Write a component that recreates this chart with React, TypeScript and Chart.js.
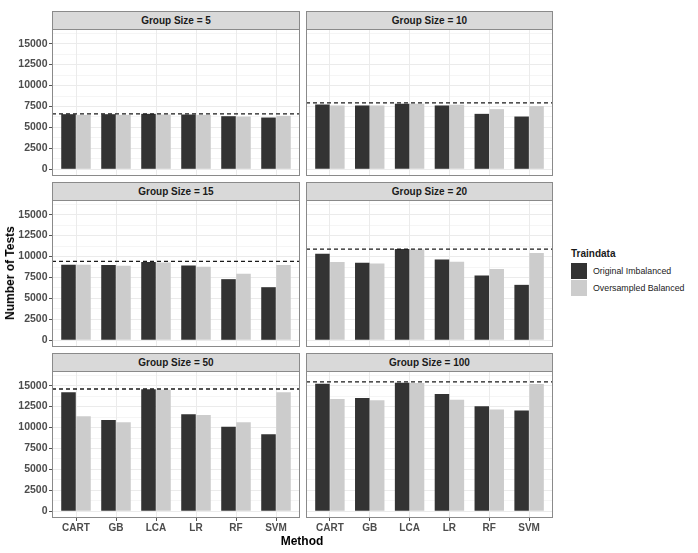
import React, { useEffect, useRef } from 'react';
import { Chart, registerables } from 'chart.js';

Chart.register(...registerables);

// ---------- data ----------
const methods = ['CART', 'GB', 'LCA', 'LR', 'RF', 'SVM'];
const groupSizes = [5, 10, 15, 20, 50, 100];
const seriesNames = ['Original Imbalanced', 'Oversampled Balanced'];

const original5 = [6580, 6580, 6620, 6540, 6340, 6180];
const original10 = [7740, 7620, 7820, 7620, 6620, 6300];
const original15 = [9020, 8980, 9340, 8940, 7300, 6340];
const original20 = [10330, 9260, 10890, 9650, 7740, 6620];
const original50 = [14200, 10910, 14560, 11590, 10080, 9210];
const original100 = [15240, 13530, 15360, 14010, 12540, 12020];

const oversampled5 = [6500, 6500, 6540, 6500, 6300, 6380];
const oversampled10 = [7620, 7620, 7820, 7700, 7180, 7540];
const oversampled15 = [9020, 8900, 9300, 8780, 7940, 8980];
const oversampled20 = [9340, 9180, 10850, 9380, 8500, 10410];
const oversampled50 = [11350, 10640, 14520, 11510, 10640, 14200];
const oversampled100 = [13410, 13250, 15320, 13330, 12140, 15200];

const referenceLine = [6620, 7940, 9420, 10890, 14600, 15440];

// major (labelled) and minor y grid values
const yMajorTicks = [0, 2500, 5000, 7500, 10000, 12500, 15000];
const yMinorTicks = [1250, 3750, 6250, 8750, 11250, 13750, 16250];

const originalByGroup = [original5, original10, original15, original20, original50, original100];
const oversampledByGroup = [oversampled5, oversampled10, oversampled15, oversampled20, oversampled50, oversampled100];

// ---------- style ----------
const FONT = "'Liberation Sans', Arial, Helvetica, sans-serif";
const DARK = '#333333';
const LIGHT = '#CCCCCC';
const BORDER = '#8A8A8A';

const colLeft = [52, 306];
const colWidth = [248, 247];
const stripTop = [11, 182, 353];
const stripH = 18;
const bodyH = 147;
const yAxisW = 52;
const xAxisH = 24;

const borderPlugin = {
  id: 'panelBorder',
  afterDraw(chart: any) {
    const { left, top, right, bottom } = chart.chartArea;
    const ctx = chart.ctx;
    ctx.save();
    ctx.strokeStyle = BORDER;
    ctx.lineWidth = 1;
    ctx.strokeRect(Math.round(left) + 0.5, Math.round(top) + 0.5, Math.round(right - left) - 1, Math.round(bottom - top) - 1);
    ctx.restore();
  },
};

const isMajor = (v: number) => yMajorTicks.includes(v);

function Panel({ g, row, col }: { g: number; row: number; col: number }) {
  const ref = useRef<HTMLCanvasElement | null>(null);
  const showY = col === 0;
  const showX = row === 2;
  const cw = showY ? yAxisW + colWidth[col] : colWidth[col];
  const ch = showX ? bodyH + xAxisH : bodyH;
  const left = showY ? colLeft[col] - yAxisW : colLeft[col];
  const top = stripTop[row] + stripH;

  useEffect(() => {
    const canvas = ref.current;
    if (!canvas) return;
    const chart = new Chart(canvas, {
      type: 'bar',
      data: {
        datasets: [
          {
            type: 'line',
            data: [
              { x: -0.6, y: referenceLine[g] },
              { x: 5.6, y: referenceLine[g] },
            ],
            borderColor: '#1A1A1A',
            borderWidth: 1.3,
            borderDash: [4, 3],
            pointRadius: 0,
            fill: false,
          } as any,
          {
            label: seriesNames[0],
            data: originalByGroup[g].map((v, i) => ({ x: i, y: v })),
            backgroundColor: DARK,
            borderWidth: 0,
            barPercentage: 0.97,
            categoryPercentage: 0.75,
          },
          {
            label: seriesNames[1],
            data: oversampledByGroup[g].map((v, i) => ({ x: i, y: v })),
            backgroundColor: LIGHT,
            borderWidth: 0,
            barPercentage: 0.97,
            categoryPercentage: 0.75,
          },
        ],
      },
      options: {
        responsive: false,
        animation: false,
        events: [],
        layout: { padding: 0 },
        plugins: { legend: { display: false }, tooltip: { enabled: false } },
        scales: {
          x: {
            type: 'linear',
            min: -0.6,
            max: 5.6,
            offset: false,
            afterBuildTicks: (s: any) => {
              s.ticks = methods.map((_, i) => ({ value: i }));
            },
            grid: {
              offset: false,
              color: '#EBEBEB',
              lineWidth: 1,
              drawTicks: showX,
              tickLength: 3,
              tickColor: '#555555',
            },
            border: { display: false },
            ticks: {
              display: showX,
              autoSkip: false,
              maxRotation: 0,
              padding: 1,
              color: '#4D4D4D',
              font: { family: FONT, size: 10, weight: 'bold' },
              callback: (v: any) => methods[Math.round(Number(v))] ?? '',
            },
            afterFit: (s: any) => {
              s.height = showX ? xAxisH : 0;
              s.paddingLeft = 0;
              s.paddingRight = 0;
            },
          } as any,
          y: {
            type: 'linear',
            min: -800,
            max: 16750,
            afterBuildTicks: (s: any) => {
              s.ticks = [...yMajorTicks, ...yMinorTicks].sort((a, b) => a - b).map((v) => ({ value: v }));
            },
            grid: {
              color: '#EBEBEB',
              lineWidth: (c: any) => (c.tick && isMajor(c.tick.value) ? 1 : 0.5),
              drawTicks: showY,
              tickLength: 3,
              tickWidth: 1,
              tickColor: (c: any) => (c.tick && isMajor(c.tick.value) ? '#555555' : 'rgba(0,0,0,0)'),
            },
            border: { display: false },
            ticks: {
              display: showY,
              autoSkip: false,
              padding: 1.5,
              color: '#4D4D4D',
              font: { family: FONT, size: 10.5, weight: 'bold' },
              callback: (v: any) => (isMajor(Number(v)) ? String(v) : ''),
            },
            afterFit: (s: any) => {
              s.width = showY ? yAxisW : 0;
              s.paddingTop = 0;
              s.paddingBottom = 0;
            },
          } as any,
        },
      },
      plugins: [borderPlugin],
    });
    return () => chart.destroy();
  }, [g, showX, showY]);

  return (
    <>
      <canvas
        ref={ref}
        width={cw}
        height={ch}
        style={{ position: 'absolute', left, top, width: cw, height: ch }}
      />
      <div
        style={{
          position: 'absolute',
          left: colLeft[col],
          top: stripTop[row],
          width: colWidth[col],
          height: stripH + 1,
          boxSizing: 'border-box',
          background: '#D9D9D9',
          border: `1px solid ${BORDER}`,
          fontFamily: FONT,
          fontWeight: 'bold',
          fontSize: 10,
          color: '#1A1A1A',
          display: 'flex',
          alignItems: 'center',
          justifyContent: 'center',
        }}
      >
        {`Group Size = ${groupSizes[g]}`}
      </div>
    </>
  );
}

export default function App() {
  useEffect(() => {
    document.body.style.margin = '0';
  }, []);

  return (
    <div style={{ position: 'absolute', left: 0, top: 0, width: 698, height: 553, background: '#FFFFFF', overflow: 'hidden' }}>
      {groupSizes.map((_, g) => (
        <Panel key={g} g={g} row={Math.floor(g / 2)} col={g % 2} />
      ))}
      <div
        style={{
          position: 'absolute',
          left: 9.5,
          top: 273,
          transform: 'translate(-50%, -50%) rotate(-90deg)',
          whiteSpace: 'nowrap',
          fontFamily: FONT,
          fontWeight: 'bold',
          fontSize: 12,
          lineHeight: '12px',
          color: '#000',
        }}
      >
        Number of Tests
      </div>
      <div
        style={{
          position: 'absolute',
          left: 302,
          top: 541,
          transform: 'translate(-50%, -50%)',
          whiteSpace: 'nowrap',
          fontFamily: FONT,
          fontWeight: 'bold',
          fontSize: 12,
          color: '#000',
        }}
      >
        Method
      </div>
      <div style={{ position: 'absolute', left: 571, top: 248, fontFamily: FONT, color: '#1A1A1A' }}>
        <div style={{ fontWeight: 'bold', fontSize: 10, height: 14, lineHeight: '12px' }}>Traindata</div>
        {seriesNames.map((name, i) => (
          <div key={name} style={{ display: 'flex', alignItems: 'center', height: 17.5 }}>
            <div style={{ width: 16, height: 16, background: i === 0 ? DARK : LIGHT }} />
            <div style={{ marginLeft: 6, fontSize: 8.8, whiteSpace: 'nowrap' }}>{name}</div>
          </div>
        ))}
      </div>
    </div>
  );
}
